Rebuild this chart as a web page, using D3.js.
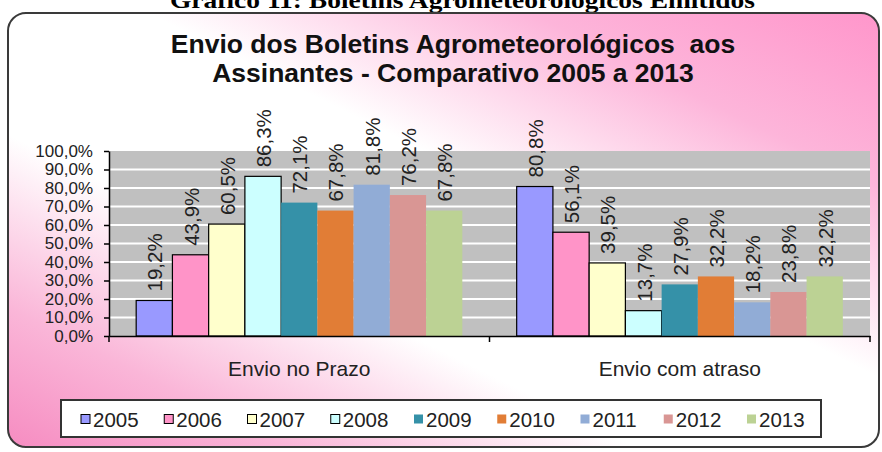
<!DOCTYPE html>
<html>
<head>
<meta charset="utf-8">
<script src="https://cdn.jsdelivr.net/npm/d3@7"></script>
<style>
  html, body { margin: 0; padding: 0; background: #ffffff; }
  svg { display: block; }
  text { font-family: "Liberation Sans", Arial, sans-serif; fill: #1a1a1a; }
</style>
</head>
<body>
<svg id="chart" width="882" height="452"></svg>
<script>
// ---------------- data ----------------
const categories = ["Envio no Prazo", "Envio com atraso"];
const years = ["2005", "2006", "2007", "2008", "2009", "2010", "2011", "2012", "2013"];
const noPrazo   = [0.192, 0.439, 0.605, 0.863, 0.721, 0.678, 0.818, 0.762, 0.678];
const comAtraso = [0.808, 0.561, 0.395, 0.137, 0.279, 0.322, 0.182, 0.238, 0.322];
const yTicks = [0, 0.1, 0.2, 0.3, 0.4, 0.5, 0.6, 0.7, 0.8, 0.9, 1.0];
const yearColors = ["#9999ff", "#ff94c8", "#ffffcc", "#ccffff", "#3591a8", "#e17d36", "#91acd6", "#d99694", "#bcd294"];
const outlinedYears = ["2005", "2006", "2007", "2008"];
const headerText = "Gráfico 11: Boletins Agrometeorológicos Emitidos";
const titleLines = ["Envio dos Boletins Agrometeorológicos  aos", "Assinantes - Comparativo 2005 a 2013"];

// build table from arrays
const seriesByCat = [noPrazo, comAtraso];
const table = categories.map((c, i) => ({
  category: c,
  values: years.map((y, j) => ({ year: y, value: seriesByCat[i][j] }))
}));

const ptBR = d3.formatLocale({ decimal: ",", thousands: ".", grouping: [3], currency: ["R$", ""] });
const pct = ptBR.format(".1%");

const svg = d3.select("#chart");
const defs = svg.append("defs");

// background gradient (pink corners, white diagonal)
const grad = defs.append("linearGradient").attr("id", "bg")
  .attr("x1", 0).attr("y1", 1).attr("x2", 1).attr("y2", 0);
[[0, "#f68cc1"], [0.16, "#fab6d8"], [0.36, "#ffffff"], [0.58, "#ffffff"], [0.8, "#fdb5da"], [1, "#ff96cb"]]
  .forEach(([o, c]) => grad.append("stop").attr("offset", o).attr("stop-color", c));

// header (clipped at top, as in the source)
svg.append("text")
  .attr("x", 170).attr("y", 8)
  .attr("textLength", 585).attr("lengthAdjust", "spacingAndGlyphs")
  .style("font-family", "'Liberation Serif', 'Times New Roman', serif")
  .style("font-weight", "bold").style("font-size", "24px").style("fill", "#000")
  .text(headerText);

// chart frame
svg.append("rect")
  .attr("x", 8).attr("y", 13).attr("width", 871).attr("height", 434)
  .attr("rx", 18).attr("ry", 18)
  .attr("fill", "url(#bg)").attr("stroke", "#3a3a3a").attr("stroke-width", 2);

// title
svg.append("g").selectAll("text").data(titleLines).join("text")
  .attr("x", 453).attr("y", (d, i) => 53 + i * 29)
  .attr("text-anchor", "middle")
  .style("white-space", "pre")
  .style("font-weight", "bold").style("font-size", "26.5px").style("fill", "#111")
  .text(d => d);

// scales
const x0 = d3.scaleBand().domain(categories).range([109, 870]).paddingInner(0).paddingOuter(0);
const x1 = d3.scaleBand().domain(years).range([0, x0.bandwidth()]).paddingInner(0).paddingOuter(0.75);
const y = d3.scaleLinear().domain([0, 1]).range([336, 151]);
const color = d3.scaleOrdinal().domain(years).range(yearColors);

// plot background
svg.append("rect")
  .attr("x", x0.range()[0]).attr("y", y(1))
  .attr("width", x0.range()[1] - x0.range()[0]).attr("height", y(0) - y(1))
  .attr("fill", "#c0c0c0");

// gridlines
svg.append("g").selectAll("line").data(yTicks.filter(t => t > 0 && t < 1)).join("line")
  .attr("x1", x0.range()[0]).attr("x2", x0.range()[1])
  .attr("y1", d => y(d)).attr("y2", d => y(d))
  .attr("stroke", "#ffffff").attr("stroke-width", 2);

// bars
const groups = svg.append("g").selectAll("g").data(table).join("g")
  .attr("transform", d => `translate(${x0(d.category)},0)`);

groups.selectAll("rect").data(d => d.values).join("rect")
  .attr("x", d => x1(d.year)).attr("width", x1.bandwidth())
  .attr("y", d => y(d.value)).attr("height", d => y(0) - y(d.value))
  .attr("fill", d => color(d.year))
  .attr("stroke", d => outlinedYears.includes(d.year) ? "#000" : "none")
  .attr("stroke-width", 1.2);

// data labels (rotated)
groups.selectAll("text").data(d => d.values).join("text")
  .attr("transform", d => `translate(${x1(d.year) + x1.bandwidth() / 2 + 8},${y(d.value) - 9}) rotate(-90)`)
  .attr("text-anchor", "start")
  .style("font-size", "20.5px").style("fill", "#222")
  .text(d => pct(d.value));

// y axis
const yAxis = svg.append("g").attr("transform", `translate(${x0.range()[0]},0)`)
  .call(d3.axisLeft(y).tickValues(yTicks).tickFormat(pct).tickSize(5).tickSizeOuter(0).tickPadding(11));
yAxis.select(".domain").attr("stroke", "#000").attr("stroke-width", 1.5);
yAxis.selectAll(".tick line").attr("stroke", "#000").attr("stroke-width", 1.5);
yAxis.selectAll(".tick text").style("font-size", "17px").style("fill", "#222")
  .style("font-family", "'Liberation Sans', Arial, sans-serif");

// x axis
const xAxis = svg.append("g").attr("transform", `translate(0,${y(0)})`)
  .call(d3.axisBottom(x0).tickSize(0).tickSizeOuter(0).tickPadding(25));
xAxis.select(".domain").attr("stroke", "#000").attr("stroke-width", 1.5);
xAxis.selectAll(".tick text").style("font-size", "21px").style("fill", "#222")
  .style("font-family", "'Liberation Sans', Arial, sans-serif");
// category boundary ticks
const bounds = categories.map(c => x0(c)).concat([x0.range()[1]]);
svg.append("g").selectAll("line").data(bounds).join("line")
  .attr("x1", d => d).attr("x2", d => d)
  .attr("y1", y(0)).attr("y2", y(0) + 6)
  .attr("stroke", "#000").attr("stroke-width", 1.5);

// legend
const lx = d3.scalePoint().domain(years).range([81, 747]);
svg.append("rect")
  .attr("x", 61).attr("y", 400).attr("width", 760).attr("height", 37)
  .attr("fill", "#ffffff").attr("stroke", "#333").attr("stroke-width", 2);
const li = svg.append("g").selectAll("g").data(years).join("g")
  .attr("transform", d => `translate(${lx(d)},0)`);
li.append("rect")
  .attr("x", 0).attr("y", 414.5).attr("width", 9).attr("height", 9)
  .attr("fill", d => color(d))
  .attr("stroke", d => outlinedYears.includes(d) ? "#000" : "none").attr("stroke-width", 1);
li.append("text")
  .attr("x", 12).attr("y", 427)
  .style("font-size", "20.5px").style("fill", "#222")
  .text(d => d);
</script>
</body>
</html>
